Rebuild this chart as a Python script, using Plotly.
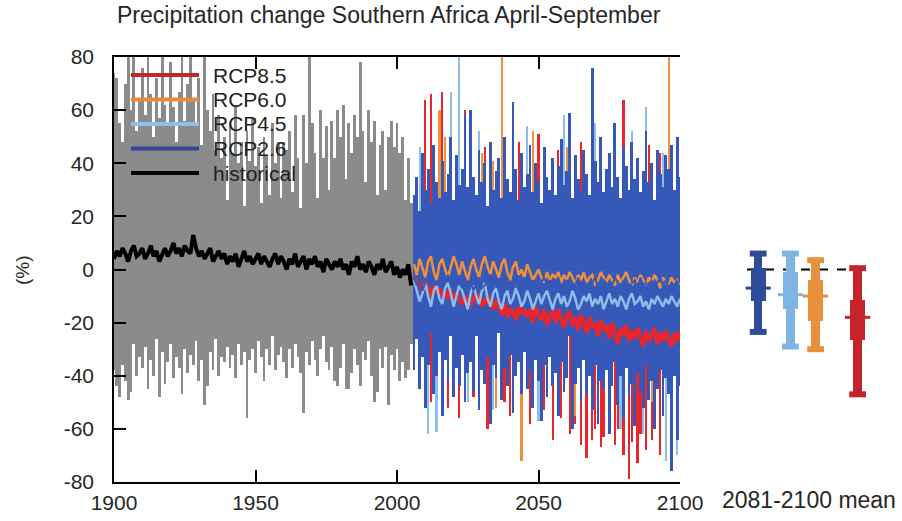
import plotly.graph_objects as go

# ---------------- data ----------------
hist_years = list(range(1900, 2006))
hist_upper = [74, 72, 55, 48, 70, 82, 60, 88, 52, 64,
              76, 58, 83, 66, 50, 72, 57, 85, 62, 54,
              78, 61, 48, 67, 82, 56, 70, 90, 64, 55,
              72, 47, 80, 60, 52, 66, 45, 58, 42, 50,
              26, 55, 44, 62, 40, 48, 24, 52, 41, 57,
              39, 46, 25, 50, 43, 28, 55, 40, 48, 27,
              48, 45, 52, 29, 58, 42, 23, 58, 40, 82,
              55, 44, 27, 60, 42, 54, 30, 56, 42, 60,
              50, 62, 34, 55, 44, 58, 50, 78, 52, 33,
              60, 48, 56, 28, 47, 52, 30, 50, 56, 46,
              55, 44, 50, 26, 42, 25]
hist_lower = [-38, -44, -48, -36, -42, -49, -46, -28, -40, -33,
              -37, -29, -45, -34, -40, -26, -48, -31, -43, -35,
              -28, -41, -33, -37, -47, -30, -39, -32, -36, -27,
              -42, -34, -51, -44, -31, -38, -26, -40, -33, -35,
              -29, -37, -32, -41, -28, -36, -31, -56, -34, -30,
              -39, -27, -33, -42, -30, -36, -25, -38, -32, -29,
              -35, -41, -30, -37, -28, -33, -39, -54, -31, -36,
              -27, -34, -40, -30, -25, -35, -38, -29, -42, -44,
              -37, -28, -45, -45, -39, -30, -36, -44, -31, -34,
              -27, -40, -50, -46, -30, -37, -29, -51, -32, -38,
              -30, -42, -35, -41, -38, -28]
hist_mean = [4, 7, 5, 8, 6, 3, 7, 9, 5, 6,
             8, 4, 6, 9, 5, 7, 3, 6, 8, 5,
             7, 10, 6, 8, 5, 9, 7, 6, 13, 8,
             5, 7, 4, 6, 8, 3, 5, 7, 4, 6,
             2, 5, 3, 6, 1, 4, 7, 3, 5, 2,
             4, 6, 2, 5, 3, 1, 4, 6, 2, 5,
             3, 0, 4, 2, 6, 1, 3, 5, 0, 4,
             2, 5, 1, 3, -1, 4, 2, 0, 3, 1,
             4, 0, 2, -2, 3, 1, 5, 0, 2, -1,
             3, 1, -2, 2, 0, 4, -1, 1, 3, -2,
             1, -3, 0, -2, 2, -6]

fut_years = list(range(2006, 2101))
rcp26_upper = [28, 35, 22, 44, 30, 38, 25, 47, 33, 27,
               41, 29, 36, 50, 26, 43, 32, 38, 58, 31,
               60, 35, 28, 45, 33, 40, 24, 48, 30, 37,
               42, 27, 50, 34, 29, 63, 38, 26, 44, 31,
               36, 47, 29, 40, 33, 25, 46, 35, 30, 42,
               28, 39, 49, 32, 37, 59, 27, 43, 34, 30,
               45, 36, 28, 76, 41, 33, 50, 29, 38, 44,
               31, 55, 35, 27, 46, 39, 30, 48, 34, 42,
               29, 37, 52, 33, 40, 26, 45, 36, 31, 43,
               38, 47, 30, 50, 35]
rcp26_lower = [-38, -26, -45, -33, -52, -36, -24, -47, -40, -31,
               -55, -34, -42, -25, -48, -37, -44, -32, -50, -39,
               -35, -46, -25, -53, -38, -43, -33, -58, -36, -41,
               -24, -49, -37, -44, -32, -54, -40, -35, -47, -31,
               -45, -38, -52, -34, -42, -57, -36, -48, -33, -44,
               -39, -55, -35, -46, -41, -25, -60, -43, -37, -50,
               -34, -47, -40, -53, -36, -58, -42, -45, -38, -62,
               -44, -35, -51, -40, -56, -37, -48, -43, -59, -39,
               -46, -52, -36, -49, -42, -60, -45, -38, -55, -41,
               -47, -76, -40, -64, -44]
rcp26_mean = [-3, -6, -4, -8, -5, -2, -7, -4, -6, -3,
              -7, -5, -2, -6, -8, -4, -5, -7, -3, -6,
              -4, -8, -5, -3, -7, -6, -4, -2, -6, -5,
              -8, -4, -6, -3, -7, -5, -4, -8, -6, -3,
              -5, -7, -4, -6, -8, -5, -3, -6, -4, -7,
              -5, -3, -7, -6, -4, -8, -5, -6, -3, -7,
              -4, -6, -8, -5, -3, -7, -6, -4, -5, -8,
              -6, -3, -5, -7, -4, -6, -8, -5, -4, -7,
              -3, -6, -5, -8, -4, -7, -5, -3, -6, -4,
              -7, -5, -6, -4, -8]
rcp45_mean = [-4, -8, -12, -9, -5, -10, -14, -8, -6, -11,
              -13, -7, -5, -9, -14, -10, -6, -8, -12, -15,
              -9, -6, -10, -13, -8, -5, -11, -14, -9, -7,
              -12, -15, -10, -8, -13, -11, -7, -10, -14, -12,
              -8, -11, -15, -12, -9, -13, -10, -8, -12, -15,
              -11, -9, -13, -10, -14, -12, -8, -11, -15, -13,
              -10, -12, -9, -14, -11, -13, -10, -15, -12, -9,
              -13, -11, -14, -10, -12, -15, -11, -9, -13, -12,
              -10, -14, -12, -15, -11, -13, -10, -12, -14, -11,
              -13, -10, -12, -14, -11]
rcp60_mean = [2, -2, 4, 0, -3, 3, 5, -1, -4, 2,
              4, 0, -3, 1, 5, 2, -2, 3, -1, -4,
              1, 4, 0, -3, 2, 5, 1, -2, 3, 0,
              -3, 2, 4, -1, -4, 1, 3, -2, 0, -3,
              2, -1, -4, -2, 0, -3, -5, -1, -4, -2,
              -3, -1, -5, -2, -4, -1, -3, -6, -2, -4,
              -1, -5, -3, -2, -6, -4, -1, -3, -5, -2,
              -4, -6, -2, -5, -3, -1, -4, -6, -3, -5,
              -2, -4, -6, -3, -5, -2, -4, -7, -3, -5,
              -6, -3, -5, -4, -7]
rcp85_mean = [-3, -6, -4, -8, -5, -7, -10, -6, -9, -7,
              -10, -8, -11, -7, -12, -9, -11, -13, -10, -12,
              -13, -10, -12, -9, -14, -11, -13, -10, -15, -12,
              -14, -17, -13, -18, -15, -16, -19, -14, -17, -15,
              -18, -15, -20, -14, -17, -19, -15, -21, -17, -16,
              -20, -15, -19, -22, -17, -16, -21, -18, -23, -17,
              -20, -24, -18, -22, -20, -25, -19, -23, -21, -26,
              -20, -24, -28, -22, -25, -21, -27, -23, -26, -22,
              -25, -29, -23, -27, -25, -22, -28, -24, -27, -23,
              -26, -29, -24, -27, -23]

# single-model extremes that stick out of the RCP2.6 envelope
rcp85_spike_years = [2010, 2012, 2016, 2024, 2031, 2043, 2050, 2057, 2065, 2080, 2089, 2093,
                     2012, 2018, 2022, 2027, 2032, 2038, 2040, 2047, 2052, 2055, 2058, 2061,
                     2063, 2065, 2067, 2069, 2070, 2072, 2073, 2075, 2077, 2078, 2080, 2082,
                     2083, 2085, 2086, 2088, 2090, 2091, 2093, 2095, 2097, 2099]
rcp85_spike_vals = [64, 66, 67, 60, 46, 48, 51, 45, 48, 64, 47, 44,
                    -50, -52, -56, -48, -60, -50, -55, -58, -53, -64, -56, -62,
                    -58, -66, -71, -64, -60, -67, -63, -58, -66, -60, -70, -79,
                    -65, -73, -62, -68, -64, -57, -70, -66, -74, -62]
rcp60_spike_years = [2015, 2017, 2030, 2034, 2037, 2048, 2060, 2075, 2096,
                     2010, 2020, 2035, 2044, 2063, 2090]
rcp60_spike_vals = [60, 50, 44, 41, 85, 52, 46, 44, 85,
                    -45, -48, -52, -72, -55, -50]
rcp45_spike_years = [2008, 2019, 2022, 2029, 2046, 2059, 2070, 2083, 2088, 2094,
                     2011, 2014, 2025, 2034, 2050, 2062, 2079, 2087, 2095, 2099]
rcp45_spike_vals = [46, 67, 85, 52, 54, 58, 55, 52, 61, 44,
                    -62, -61, -50, -53, -57, -54, -60, -62, -72, -70]

# 2081-2100 mean box statistics
box_names = ["RCP2.6", "RCP4.5", "RCP6.0", "RCP8.5"]
box_high = [6, 6, 3.5, 0.5]
box_q3 = [0.5, -1, -4, -11.5]
box_med = [-7, -9.5, -10, -18]
box_q1 = [-12, -15, -19.5, -26.5]
box_low = [-23.5, -29, -30, -47]

y_ticks = [-80, -60, -40, -20, 0, 20, 40, 60, 80]
x_ticks = [1900, 1950, 2000, 2050, 2100]

legend_names = ["RCP8.5", "RCP6.0", "RCP4.5", "RCP2.6", "historical"]

# ---------------- style / layout constants ----------------
W, H = 902, 521
PX_L, PX_R, PX_T, PX_B = 114, 680, 57, 482
BX_L, BX_R = 740, 880
BOX_POS = [0.13, 0.36, 0.54, 0.84]

C_GRAY = "#8b8b8b"
C_BAND = "#3658b8"
C_RED = "#e8262c"
C_ORANGE = "#f0903a"
C_LBLUE = "#8dbde8"
BOX_COLORS = ["#2f4c9a", "#7fb5e3", "#e8913c", "#c6242d"]
LEG_COLORS = ["#c4262e", "#e88a3c", "#8ebfe8", "#34479a", "#000000"]
FONT = "Liberation Sans, Arial, sans-serif"
TXT = "#262626"


def px_x(p):
    return p / W


def px_y(p):
    return 1 - p / H


fig = go.Figure()

# historical envelope
fig.add_trace(go.Bar(x=hist_years, base=hist_lower,
                     y=[u - l for u, l in zip(hist_upper, hist_lower)],
                     width=1.0, marker=dict(color=C_GRAY, line=dict(width=0)),
                     showlegend=False, hoverinfo="skip"))
# individual scenario spikes
for yrs, vals, col in [(rcp85_spike_years, rcp85_spike_vals, C_RED),
                       (rcp60_spike_years, rcp60_spike_vals, C_ORANGE),
                       (rcp45_spike_years, rcp45_spike_vals, C_LBLUE)]:
    fig.add_trace(go.Bar(x=yrs, y=vals, base=0, width=0.8,
                         marker=dict(color=col, line=dict(width=0)),
                         showlegend=False, hoverinfo="skip"))
# RCP2.6 envelope (drawn on top)
fig.add_trace(go.Bar(x=fut_years, base=rcp26_lower,
                     y=[u - l for u, l in zip(rcp26_upper, rcp26_lower)],
                     width=1.0, marker=dict(color=C_BAND, line=dict(width=0)),
                     showlegend=False, hoverinfo="skip"))

# multi-model means
fig.add_trace(go.Scatter(x=hist_years, y=hist_mean, mode="lines",
                         line=dict(color="black", width=4), showlegend=False))
fig.add_trace(go.Scatter(x=fut_years, y=rcp85_mean, mode="lines",
                         line=dict(color=C_RED, width=4), showlegend=False))
fig.add_trace(go.Scatter(x=fut_years, y=rcp60_mean, mode="lines",
                         line=dict(color=C_ORANGE, width=2.5), showlegend=False))
fig.add_trace(go.Scatter(x=fut_years, y=rcp45_mean, mode="lines",
                         line=dict(color=C_LBLUE, width=2.5), showlegend=False))
fig.add_trace(go.Scatter(x=fut_years, y=rcp26_mean, mode="lines",
                         line=dict(color=C_BAND, width=2), showlegend=False))

# box plots of 2081-2100 mean
for i, name in enumerate(box_names):
    col = BOX_COLORS[i]
    pos = BOX_POS[i]
    fig.add_trace(go.Bar(x=[pos], base=[box_low[i]], y=[box_high[i] - box_low[i]],
                         width=0.06, xaxis="x2", yaxis="y",
                         marker=dict(color=col, line=dict(width=0)),
                         showlegend=False, hoverinfo="skip"))
    fig.add_trace(go.Bar(x=[pos], base=[box_q1[i]], y=[box_q3[i] - box_q1[i]],
                         width=0.11, xaxis="x2", yaxis="y",
                         marker=dict(color=col, line=dict(width=0)),
                         showlegend=False, hoverinfo="skip"))
    fig.add_trace(go.Scatter(x=[pos, pos], y=[box_high[i], box_low[i]], mode="markers",
                             xaxis="x2", yaxis="y",
                             marker=dict(symbol="line-ew", size=12, color=col,
                                         line=dict(color=col, width=6)),
                             showlegend=False, hoverinfo="skip"))
    fig.add_trace(go.Scatter(x=[pos], y=[box_med[i]], mode="markers",
                             xaxis="x2", yaxis="y",
                             marker=dict(symbol="line-ew", size=18, color=col,
                                         line=dict(color=col, width=3)),
                             showlegend=False, hoverinfo="skip"))

shapes = []
annotations = []
# zero line in the box panel
shapes.append(dict(type="line", xref="x2", yref="y", x0=0.05, x1=0.92, y0=0, y1=0,
                   line=dict(color="black", width=2, dash="dash"), layer="below"))

# manual legend
leg_y0 = 75
leg_dy = 24.5
for k, (nm, col) in enumerate(zip(legend_names, LEG_COLORS)):
    yy = px_y(leg_y0 + k * leg_dy)
    shapes.append(dict(type="line", xref="paper", yref="paper",
                       x0=px_x(131), x1=px_x(199), y0=yy, y1=yy,
                       line=dict(color=col, width=4)))
    annotations.append(dict(xref="paper", yref="paper", x=px_x(211), y=yy,
                            text=nm, showarrow=False, xanchor="left", yanchor="middle",
                            font=dict(family=FONT, size=21, color="#222")))

annotations.append(dict(xref="paper", yref="paper", x=px_x(389), y=px_y(15),
                        text="Precipitation change Southern Africa April-September",
                        showarrow=False, xanchor="center", yanchor="middle",
                        font=dict(family=FONT, size=23, color=TXT)))
annotations.append(dict(xref="paper", yref="paper", x=px_x(22), y=px_y(270),
                        text="(%)", textangle=-90, showarrow=False,
                        xanchor="center", yanchor="middle",
                        font=dict(family=FONT, size=19, color=TXT)))
annotations.append(dict(xref="paper", yref="paper", x=px_x(809), y=px_y(500),
                        text="2081-2100 mean", showarrow=False,
                        xanchor="center", yanchor="middle",
                        font=dict(family=FONT, size=23, color=TXT)))

axis_common = dict(showgrid=False, zeroline=False, showline=True, linecolor="black",
                   linewidth=1.5, tickcolor="black", tickwidth=1.5,
                   tickfont=dict(family=FONT, size=21, color=TXT), automargin=False)
y_ticktext = [str(v) for v in y_ticks]

fig.update_layout(
    width=W, height=H, template="none",
    margin=dict(l=0, r=0, t=0, b=0),
    paper_bgcolor="white", plot_bgcolor="rgba(0,0,0,0)",
    barmode="overlay", bargap=0, showlegend=False,
    shapes=shapes, annotations=annotations,
    xaxis=dict(domain=[px_x(PX_L), px_x(PX_R)], range=[1900, 2100], tickvals=x_ticks,
               ticks="inside", ticklen=12, mirror="ticks", anchor="y",
               ticklabelstandoff=1, **axis_common),
    yaxis=dict(domain=[px_y(PX_B), px_y(PX_T)], range=[-80, 80], tickvals=y_ticks,
               ticktext=y_ticktext,
               ticks="inside", ticklen=12, anchor="x", ticklabelstandoff=14,
               **axis_common),
    yaxis2=dict(overlaying="y", side="right", anchor="x", range=[-80, 80],
                tickvals=y_ticks, ticktext=y_ticktext,
                ticks="outside", ticklen=9, ticklabelstandoff=4,
                **axis_common),
    xaxis2=dict(domain=[px_x(BX_L), px_x(BX_R)], range=[0, 1], anchor="y",
                visible=False, showgrid=False, zeroline=False),
)

fig.write_html("out.html")
